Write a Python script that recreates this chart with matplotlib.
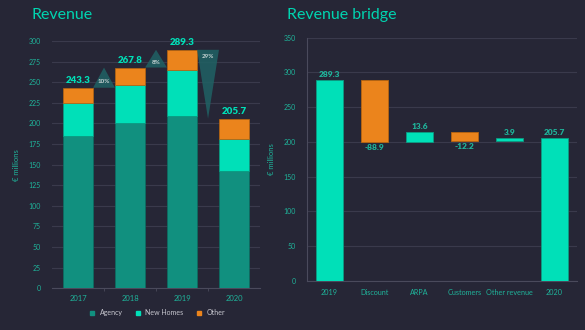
import matplotlib.pyplot as plt
from matplotlib.patches import Polygon
from matplotlib.lines import Line2D

plt.rcParams['font.family'] = ['Lato', 'DejaVu Sans']

# left chart data
years = ['2017', '2018', '2019', '2020']
agency = [185.3, 200.8, 209.3, 142.1]
new_homes = [39.4, 46.2, 55.5, 39.6]
other = [18.6, 20.8, 24.5, 24.0]
totals = [243.3, 267.8, 289.3, 205.7]
growth = ['10%', '8%', '29%']

# bridge data
steps = ['2019', 'Discount', 'ARPA', 'Customers', 'Other revenue', '2020']
deltas = [289.3, -88.9, 13.6, -12.2, 3.9, 205.7]

BG = '#262636'
TEAL = '#00e0b8'
DARK = '#11907f'
ORANGE = '#eb841c'
TXT = '#1fb39a'
GRID = '#3a3a4c'

fig = plt.figure(figsize=(5.85, 3.3), dpi=100, facecolor=BG)

# ---------------- Revenue ----------------
ax1 = fig.add_axes([0.0889, 0.1264, 0.3556, 0.7494], facecolor=BG)
x = range(len(years))
w = 0.57
b2 = [a + n for a, n in zip(agency, new_homes)]
ax1.bar(x, agency, w, color=DARK, edgecolor='#0b6f62', linewidth=0.5, zorder=3)
ax1.bar(x, new_homes, w, bottom=agency, color=TEAL, edgecolor='#0b9c82', linewidth=0.5, zorder=3)
ax1.bar(x, other, w, bottom=b2, color=ORANGE, edgecolor='#b9650f', linewidth=0.5, zorder=3)
for i, t in enumerate(totals):
    ax1.text(i, t + 3, f'{t:.1f}', ha='center', va='bottom', color=TEAL,
             fontsize=7, fontweight='heavy', zorder=5)
for i, g in enumerate(growth):
    lo, hi = totals[i], totals[i + 1]
    tri = Polygon([(i + 0.29, lo), (i + 0.71, lo), (i + 0.5, hi)], closed=True,
                  facecolor='#1f6264', alpha=0.85, edgecolor='none', zorder=4, clip_on=False)
    ax1.add_patch(tri)
    ty = lo + (hi - lo) * 0.3 if hi > lo else lo - 8
    ax1.text(i + 0.5, ty, g, ha='center', va='center', color='#c8d4d4',
             fontsize=4.5, fontweight='bold', zorder=5)
ax1.set_xlim(-0.5, 3.5)
ax1.set_ylim(0, 300)
ax1.set_yticks(range(0, 301, 25))
ax1.set_xticks(list(x))
ax1.set_xticklabels(years)
ax1.set_xticks([0.5, 1.5, 2.5], minor=True)
ax1.grid(axis='y', color=GRID, linewidth=0.8, zorder=0)
for s in ['top', 'right', 'left']:
    ax1.spines[s].set_visible(False)
ax1.spines['bottom'].set_color('#4a4a5c')
ax1.spines['bottom'].set_linestyle((0, (2, 1)))
ax1.tick_params(axis='y', length=0, labelsize=5, labelcolor=TXT, pad=8)
ax1.tick_params(axis='x', which='major', length=0, labelsize=5.5, labelcolor=TXT, pad=5)
ax1.tick_params(axis='x', which='minor', length=2, color='#4a4a5c')
ax1.set_ylabel('€ millions', color=TXT, fontsize=5.5, labelpad=6)
fig.text(0.054, 0.955, 'Revenue', color='#00d4b0', fontsize=11.5, va='center')

handles = [Line2D([], [], marker='s', linestyle='none', markersize=3, color=c)
           for c in (DARK, TEAL, ORANGE)]
fig.legend(handles, ['Agency', 'New Homes', 'Other'], loc='center',
           bbox_to_anchor=(0.265, 0.052), ncol=3, frameon=False, fontsize=5,
           labelcolor='#c8c8d0', handletextpad=0.1, columnspacing=1.2)

# ---------------- Revenue bridge ----------------
ax2 = fig.add_axes([0.5248, 0.1485, 0.4615, 0.7373], facecolor=BG)
run = 0
for i, (s, d) in enumerate(zip(steps, deltas)):
    if i == 0 or i == len(steps) - 1:
        base, h, col = 0, d, TEAL
        run = d
    else:
        base = run + min(d, 0)
        h = abs(d)
        col = TEAL if d > 0 else ORANGE
        run += d
    ax2.bar(i, h, 0.6, bottom=base, color=col,
            edgecolor='#0b9c82' if col == TEAL else '#b9650f', linewidth=0.6, zorder=3)
    if d < 0:
        ax2.text(i, base - 3, f'{d:.1f}', ha='center', va='top', color=TXT,
                 fontsize=6, fontweight='heavy', zorder=4)
    else:
        ax2.text(i, base + h + 3, f'{d:.1f}', ha='center', va='bottom', color=TXT,
                 fontsize=6, fontweight='heavy', zorder=4)
ax2.set_xlim(-0.5, len(steps) - 0.5)
ax2.set_ylim(0, 350)
ax2.set_yticks(range(0, 351, 50))
ax2.set_xticks(range(len(steps)))
ax2.set_xticklabels(steps)
ax2.grid(axis='y', color=GRID, linewidth=0.8, zorder=0)
for s in ['top', 'right']:
    ax2.spines[s].set_visible(False)
for s in ['left', 'bottom']:
    ax2.spines[s].set_color('#4a4a5c')
ax2.tick_params(axis='y', length=0, labelsize=5, labelcolor=TXT, pad=8)
ax2.tick_params(axis='x', length=0, labelsize=5.2, labelcolor=TXT, pad=6)
ax2.set_ylabel('€ millions', color=TXT, fontsize=5.5, labelpad=6)
fig.text(0.49, 0.955, 'Revenue bridge', color='#00d4b0', fontsize=11.5, va='center')

fig.savefig('out.png', dpi=100, facecolor=BG)
